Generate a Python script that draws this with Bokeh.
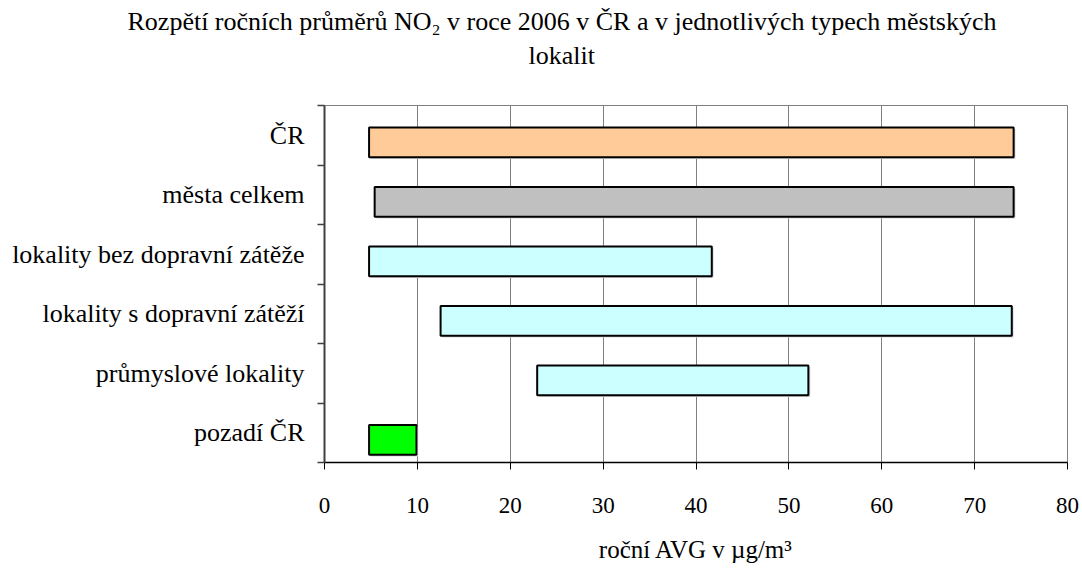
from bokeh.plotting import figure
from bokeh.models import FixedTicker, Range1d, Title
from bokeh.embed import file_html
from bokeh.resources import INLINE

categories = ["ČR", "města celkem", "lokality bez dopravní zátěže",
              "lokality s dopravní zátěží", "průmyslové lokality", "pozadí ČR"]
range_min = [4.8, 5.4, 4.8, 12.5, 22.9, 4.8]
range_max = [74.2, 74.2, 41.7, 74.0, 52.1, 9.9]
colors = ["#FFCC99", "#C0C0C0", "#CCFFFF", "#CCFFFF", "#CCFFFF", "#00FF00"]
x_ticks = [0, 10, 20, 30, 40, 50, 60, 70, 80]
title_lines = ["Rozpětí ročních průměrů NO₂ v roce 2006 v ČR a v jednotlivých typech městských", "lokalit"]
x_label = "roční AVG v µg/m³"

n = len(categories)
FONT = "Liberation Serif"

p = figure(width=1080, height=566, output_backend="svg", toolbar_location=None,
           x_range=Range1d(0, 80), y_range=Range1d(0, n),
           min_border_left=324, min_border_right=13, min_border_top=105, min_border_bottom=104)
p.background_fill_color = "white"
p.border_fill_color = "white"
p.outline_line_color = "#808080"
p.outline_line_width = 1

# bar positions: top category first
centers = [n - 1 - i + 0.5 - 0.12 for i in range(n)]
h = 0.5
# shadow
p.quad(left=[v + 0.2 for v in range_min], right=[v + 0.2 for v in range_max],
       bottom=[c - h / 2 - 0.03 for c in centers], top=[c + h / 2 - 0.03 for c in centers],
       fill_color="#D8D8D8", line_color=None)
p.quad(left=range_min, right=range_max,
       bottom=[c - h / 2 for c in centers], top=[c + h / 2 for c in centers],
       fill_color=colors, line_color="black", line_width=2)

p.xgrid.ticker = FixedTicker(ticks=x_ticks)
p.xgrid.grid_line_color = "#808080"
p.xgrid.grid_line_width = 1
p.ygrid.grid_line_color = None

xa = p.xaxis[0]
xa.ticker = FixedTicker(ticks=x_ticks)
xa.axis_line_color = "black"
xa.axis_line_width = 1.5
xa.major_tick_line_color = "black"
xa.major_tick_out = 7
xa.major_tick_in = 0
xa.minor_tick_line_color = None
xa.major_label_standoff = 28
xa.major_label_text_font = FONT
xa.major_label_text_font_size = "23px"
xa.major_label_text_color = "black"
xa.axis_label = x_label
xa.axis_label_text_font = FONT
xa.axis_label_text_font_size = "25px"
xa.axis_label_text_font_style = "normal"
xa.axis_label_text_color = "black"
xa.axis_label_standoff = 20

ya = p.yaxis[0]
ya.ticker = FixedTicker(ticks=[i + 0.5 for i in range(n)], minor_ticks=list(range(n + 1)))
ya.major_label_overrides = {n - 1 - i + 0.5: categories[i] for i in range(n)}
ya.axis_line_color = "#404040"
ya.axis_line_width = 2
ya.major_tick_line_color = None
ya.major_tick_out = 0
ya.major_tick_in = 0
ya.minor_tick_line_color = "#404040"
ya.minor_tick_line_width = 1.5
ya.minor_tick_out = 7
ya.minor_tick_in = 0
ya.major_label_standoff = 13
ya.major_label_text_font = FONT
ya.major_label_text_font_size = "26px"
ya.major_label_text_color = "black"

# title: stacked from the frame upwards (first added = nearest the frame)
p.add_layout(Title(text=" ", standoff=30, text_font=FONT, text_font_size="2px"), "above")
p.add_layout(Title(text=title_lines[1], align="left", offset=204, standoff=4,
                   text_font=FONT, text_font_size="26px", text_font_style="normal",
                   text_color="black"), "above")
p.add_layout(Title(text=title_lines[0], align="left", offset=-197, standoff=1,
                   text_font=FONT, text_font_size="26px", text_font_style="normal",
                   text_color="black"), "above")

open("out.html", "w").write(file_html(p, INLINE))
